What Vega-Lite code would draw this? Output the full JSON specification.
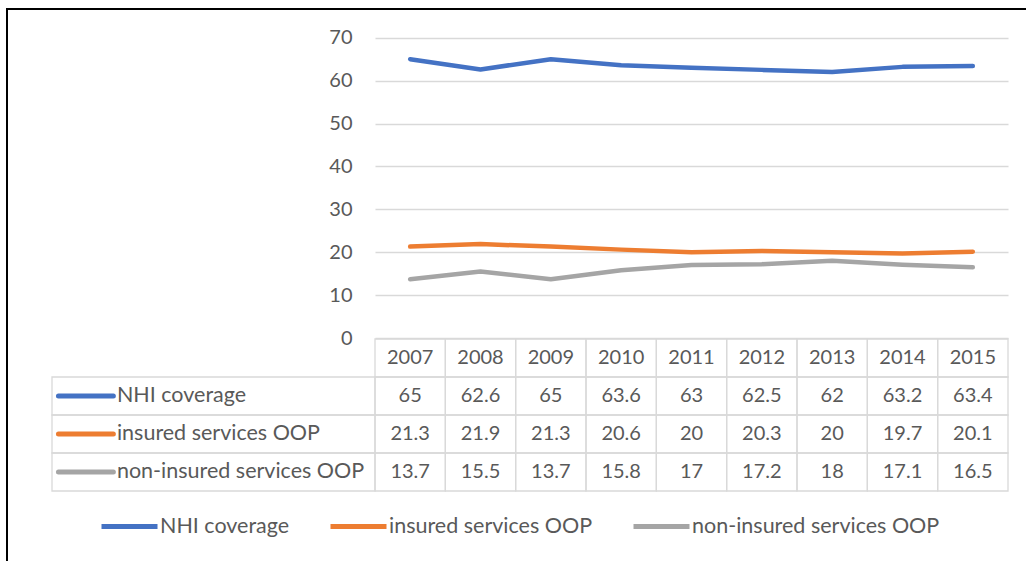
{
  "$schema": "https://vega.github.io/schema/vega-lite/v6.json",
  "autosize": {"type": "none"},
  "padding": {"left": 7, "top": 9, "right": -3, "bottom": -4},
  "width": 1022,
  "height": 556,
  "background": "white",
  "config": {
    "view": {"stroke": "#000000", "strokeWidth": 2},
    "font": "Lato",
    "text": {"font": "Lato", "fontSize": 20, "fill": "#595959"}
  },
  "data": {
    "values": [
      {"series": "NHI coverage", "year": 2007, "value": 65},
      {"series": "NHI coverage", "year": 2008, "value": 62.6},
      {"series": "NHI coverage", "year": 2009, "value": 65},
      {"series": "NHI coverage", "year": 2010, "value": 63.6},
      {"series": "NHI coverage", "year": 2011, "value": 63},
      {"series": "NHI coverage", "year": 2012, "value": 62.5},
      {"series": "NHI coverage", "year": 2013, "value": 62},
      {"series": "NHI coverage", "year": 2014, "value": 63.2},
      {"series": "NHI coverage", "year": 2015, "value": 63.4},
      {"series": "insured services OOP", "year": 2007, "value": 21.3},
      {"series": "insured services OOP", "year": 2008, "value": 21.9},
      {"series": "insured services OOP", "year": 2009, "value": 21.3},
      {"series": "insured services OOP", "year": 2010, "value": 20.6},
      {"series": "insured services OOP", "year": 2011, "value": 20},
      {"series": "insured services OOP", "year": 2012, "value": 20.3},
      {"series": "insured services OOP", "year": 2013, "value": 20},
      {"series": "insured services OOP", "year": 2014, "value": 19.7},
      {"series": "insured services OOP", "year": 2015, "value": 20.1},
      {"series": "non-insured services OOP", "year": 2007, "value": 13.7},
      {"series": "non-insured services OOP", "year": 2008, "value": 15.5},
      {"series": "non-insured services OOP", "year": 2009, "value": 13.7},
      {"series": "non-insured services OOP", "year": 2010, "value": 15.8},
      {"series": "non-insured services OOP", "year": 2011, "value": 17},
      {"series": "non-insured services OOP", "year": 2012, "value": 17.2},
      {"series": "non-insured services OOP", "year": 2013, "value": 18},
      {"series": "non-insured services OOP", "year": 2014, "value": 17.1},
      {"series": "non-insured services OOP", "year": 2015, "value": 16.5}
    ]
  },
  "resolve": {"scale": {"x": "independent", "y": "independent"}},
  "layer": [
    {
      "mark": {"type": "line", "strokeWidth": 4.5, "strokeCap": "round", "strokeJoin": "round"},
      "encoding": {
        "x": {
          "field": "year", "type": "ordinal", "bandPosition": 0.5,
          "scale": {"type": "band", "range": [368, 1001], "paddingInner": 0, "paddingOuter": 0},
          "axis": null
        },
        "y": {
          "field": "value", "type": "quantitative",
          "scale": {"domain": [0, 70], "range": [329, 28.7], "nice": false, "zero": true},
          "axis": {
            "values": [0, 10, 20, 30, 40, 50, 60, 70],
            "offset": -368,
            "domain": false,
            "ticks": false,
            "grid": true,
            "gridColor": "#D9D9D9",
            "gridWidth": 1.3,
            "labelPadding": 23,
            "labelFont": "Lato",
            "labelFontSize": 20,
            "labelColor": "#595959",
            "title": null
          }
        },
        "color": {
          "field": "series", "type": "nominal",
          "scale": {
            "domain": ["NHI coverage", "insured services OOP", "non-insured services OOP"],
            "range": ["#4472C4", "#ED7D31", "#A5A5A5"]
          },
          "legend": {
            "orient": "none",
            "legendX": 92,
            "legendY": 487,
            "direction": "horizontal",
            "title": null,
            "padding": 0,
            "symbolType": "stroke",
            "symbolStrokeWidth": 5,
            "symbolSize": 3136,
            "labelFont": "Lato",
            "labelFontSize": 21.5,
            "labelColor": "#595959",
            "labelLimit": 0,
            "labelOffset": 0,
            "columnPadding": 30
          }
        }
      }
    },
    {
      "encoding": {
        "x": {
          "field": "year", "type": "ordinal",
          "scale": {"type": "band", "range": [368, 1001], "paddingInner": 0, "paddingOuter": 0},
          "axis": null
        }
      },
      "layer": [
        {
          "mark": {"type": "rect", "filled": false, "stroke": "#D9D9D9", "strokeWidth": 1.3},
          "encoding": {
            "y": {
              "field": "series", "type": "nominal",
              "scale": {
                "type": "band",
                "domain": ["year", "NHI coverage", "insured services OOP", "non-insured services OOP"],
                "range": [330, 482], "paddingInner": 0, "paddingOuter": 0
              },
              "axis": null
            }
          }
        },
        {
          "transform": [{"filter": "datum.series == 'NHI coverage'"}],
          "mark": {"type": "rect", "filled": false, "stroke": "#D9D9D9", "strokeWidth": 1.3},
          "encoding": {"y": {"datum": "year", "type": "nominal"}}
        },
        {
          "mark": {"type": "text", "baseline": "middle", "align": "center"},
          "encoding": {
            "y": {"field": "series", "type": "nominal", "bandPosition": 0.5},
            "text": {"field": "value", "type": "nominal"}
          }
        },
        {
          "transform": [{"filter": "datum.series == 'NHI coverage'"}],
          "mark": {"type": "text", "baseline": "middle", "align": "center"},
          "encoding": {
            "y": {"datum": "year", "type": "nominal", "bandPosition": 0.5},
            "text": {"field": "year", "type": "nominal"}
          }
        }
      ]
    },
    {
      "transform": [{"filter": "datum.year == 2007"}],
      "encoding": {
        "y": {
          "field": "series", "type": "nominal",
          "scale": {
            "type": "band",
            "domain": ["year", "NHI coverage", "insured services OOP", "non-insured services OOP"],
            "range": [330, 482], "paddingInner": 0, "paddingOuter": 0
          },
          "axis": null
        }
      },
      "layer": [
        {
          "mark": {"type": "rect", "filled": false, "stroke": "#D9D9D9", "strokeWidth": 1.3},
          "encoding": {
            "x": {"datum": 0, "type": "quantitative", "scale": {"domain": [0, 1], "range": [45, 368], "nice": false, "zero": false}, "axis": null},
            "x2": {"datum": 1}
          }
        },
        {
          "mark": {"type": "rule", "strokeWidth": 5, "strokeCap": "round"},
          "encoding": {
            "x": {"datum": 0.02, "type": "quantitative"},
            "x2": {"datum": 0.19},
            "y": {"field": "series", "type": "nominal", "bandPosition": 0.5},
            "color": {"field": "series", "type": "nominal"}
          }
        },
        {
          "mark": {"type": "text", "align": "left", "baseline": "middle", "fontSize": 21.5},
          "encoding": {
            "x": {"datum": 0.201, "type": "quantitative"},
            "y": {"field": "series", "type": "nominal", "bandPosition": 0.5},
            "text": {"field": "series", "type": "nominal"}
          }
        }
      ]
    }
  ]
}
